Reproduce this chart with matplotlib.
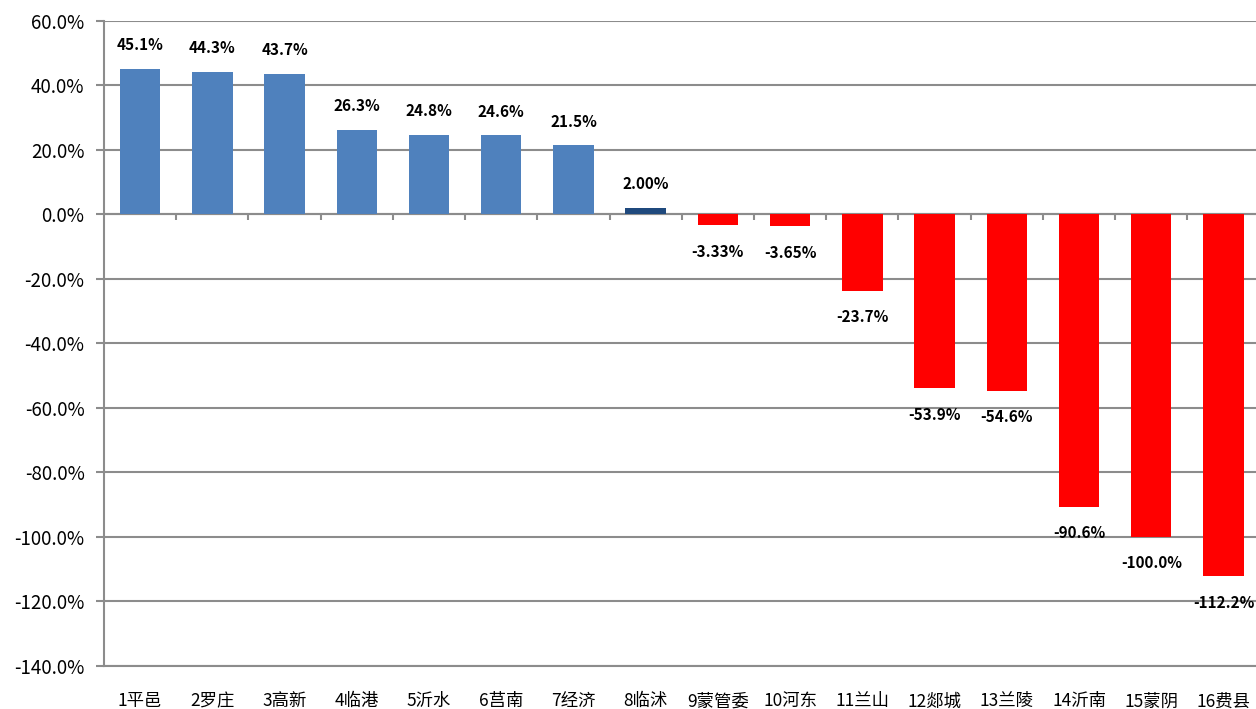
import matplotlib
matplotlib.use("Agg")
import matplotlib.pyplot as plt
from matplotlib.ticker import FuncFormatter

plt.rcParams['font.family'] = ['Noto Sans CJK SC', 'DejaVu Sans']

# data
regions = ["1平邑", "2罗庄", "3高新", "4临港", "5沂水", "6莒南", "7经济", "8临沭",
           "9蒙管委", "10河东", "11兰山", "12郯城", "13兰陵", "14沂南", "15蒙阴", "16费县"]
growth = [45.1, 44.3, 43.7, 26.3, 24.8, 24.6, 21.5, 2.00,
          -3.33, -3.65, -23.7, -53.9, -54.6, -90.6, -100.0, -112.2]
value_labels = ["45.1%", "44.3%", "43.7%", "26.3%", "24.8%", "24.6%", "21.5%", "2.00%",
                "-3.33%", "-3.65%", "-23.7%", "-53.9%", "-54.6%", "-90.6%", "-100.0%", "-112.2%"]

colors = []
for i, v in enumerate(growth):
    if v < 0:
        colors.append("#FF0000")
    elif i == 7:
        colors.append("#1F497D")
    else:
        colors.append("#4F81BD")

fig = plt.figure(figsize=(12.56, 7.09), dpi=100)
ax = fig.add_axes([0.0828, 0.0607, 0.9172, 0.9097])

x = list(range(len(regions)))
ax.bar(x, growth, width=0.56, color=colors, zorder=3)

# chart is slightly cropped on the right in the original
ax.set_xlim(-0.5, len(regions) - 0.55)
ax.set_ylim(-140, 60)
ax.set_yticks(range(-140, 61, 20))
ax.yaxis.set_major_formatter(FuncFormatter(lambda v, p: f"{v:.1f}%"))
ax.grid(axis='y', color="#8C8C8C", linewidth=1.5, zorder=0)
ax.set_axisbelow(True)

for s in ['top', 'right']:
    ax.spines[s].set_visible(False)
ax.spines['left'].set_color("#8C8C8C")
ax.spines['left'].set_linewidth(1.5)
ax.spines['bottom'].set_color("#8C8C8C")
ax.spines['bottom'].set_linewidth(1.5)

ax.tick_params(axis='y', length=6, color="#8C8C8C", width=1.5, labelsize=13.5, pad=8)
ax.set_xticks(x)
ax.set_xticklabels(regions, fontsize=12.5)
ax.tick_params(axis='x', length=0, pad=19)

# zero line with category tick marks
ax.axhline(0, color="#8C8C8C", linewidth=1.5, zorder=2)
ax.vlines([i + 0.5 for i in x[:-1]], 0, -1.6, color="#8C8C8C", linewidth=1.5, zorder=2)

for i, v in enumerate(growth):
    off = 17 if v >= 0 else -19
    ax.annotate(value_labels[i], (i, v), xytext=(0, off), textcoords='offset points',
                ha='center', va='center', fontsize=11, fontweight='bold', zorder=4)

fig.savefig("out.png", dpi=100)
